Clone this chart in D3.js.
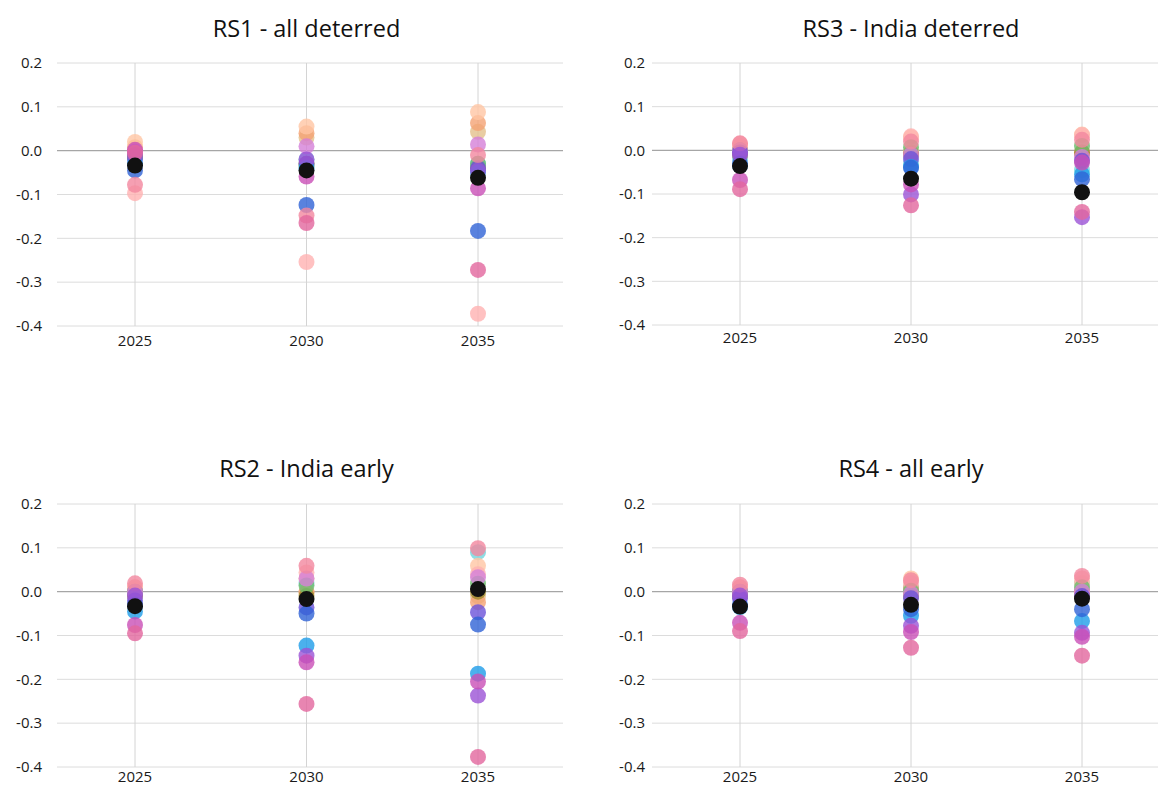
<!DOCTYPE html>
<html>
<head>
<meta charset="utf-8">
<script src="https://cdn.jsdelivr.net/npm/d3@7"></script>
<style>
  html, body { margin: 0; padding: 0; background: #fff; }
  svg { display: block; }
</style>
</head>
<body>
<svg id="chart" width="1158" height="785"></svg>
<script>
// Years on the x axis and value ticks on the y axis
const years = [2025, 2030, 2035];
const yTicks = [0.2, 0.1, 0.0, -0.1, -0.2, -0.3, -0.4];

// One colour per series
const seriesColors = [
  "#ffc6a4", // light peach
  "#f4a274", // peach
  "#ffb1b1", // light pink
  "#f2879f", // pink
  "#e2669e", // pink magenta
  "#c94fb6", // magenta
  "#d580d8", // orchid
  "#9b52d6", // purple
  "#6c52d9", // indigo
  "#2f63d6", // royal blue
  "#1e9ce9", // sky blue
  "#72d4dc", // cyan
  "#6dbb6d", // green
  "#9a8a2c", // olive
  "#e4c18c", // tan
  "#111111"  // black
];

// Stacking order of the series (last drawn sits on top)
const drawOrder = [14, 11, 1, 0, 2, 13, 12, 6, 8, 10, 9, 3, 7, 5, 4, 15];

// Values per series for 2025, 2030, 2035
const rs1Values = [
  [0.020, 0.055, 0.088],
  [0.008, 0.040, 0.063],
  [-0.097, -0.254, -0.372],
  [-0.078, -0.148, -0.010],
  [-0.005, -0.165, -0.272],
  [0.002, -0.059, -0.086],
  [-0.002, 0.010, 0.014],
  [-0.010, -0.020, -0.046],
  [-0.020, -0.030, -0.040],
  [-0.045, -0.124, -0.183],
  [-0.030, -0.040, -0.050],
  [-0.010, -0.020, -0.030],
  [-0.015, -0.035, -0.030],
  [-0.013, -0.030, -0.040],
  [-0.005, 0.030, 0.043],
  [-0.034, -0.045, -0.062]
];

const rs3Values = [
  [0.010, 0.030, 0.036],
  [0.005, -0.005, -0.005],
  [0.015, 0.032, 0.035],
  [0.016, 0.020, 0.024],
  [-0.089, -0.126, -0.141],
  [-0.068, -0.078, -0.028],
  [0.000, -0.010, -0.015],
  [-0.010, -0.101, -0.153],
  [-0.005, -0.020, -0.024],
  [-0.030, -0.040, -0.066],
  [-0.035, -0.038, -0.055],
  [-0.020, -0.030, -0.045],
  [0.000, 0.007, 0.010],
  [-0.010, -0.010, -0.005],
  [0.000, -0.005, -0.010],
  [-0.036, -0.065, -0.096]
];

const rs2Values = [
  [0.010, 0.030, 0.059],
  [0.005, -0.002, -0.024],
  [0.010, 0.044, 0.040],
  [0.019, 0.059, 0.099],
  [-0.095, -0.256, -0.377],
  [-0.076, -0.161, -0.205],
  [0.000, 0.030, 0.033],
  [-0.009, -0.146, -0.237],
  [-0.020, -0.036, -0.047],
  [-0.030, -0.050, -0.075],
  [-0.045, -0.123, -0.187],
  [0.000, 0.020, 0.090],
  [0.000, 0.014, 0.018],
  [-0.010, -0.010, 0.000],
  [0.000, -0.002, -0.010],
  [-0.033, -0.017, 0.006]
];

const rs4Values = [
  [0.010, 0.030, 0.020],
  [0.005, 0.010, 0.000],
  [0.010, 0.020, 0.030],
  [0.016, 0.026, 0.036],
  [-0.090, -0.128, -0.146],
  [-0.071, -0.092, -0.103],
  [0.000, -0.005, 0.000],
  [-0.009, -0.078, -0.094],
  [-0.015, -0.015, -0.010],
  [-0.030, -0.040, -0.040],
  [-0.035, -0.055, -0.067],
  [0.000, 0.010, 0.018],
  [0.000, 0.002, 0.010],
  [-0.010, -0.010, -0.010],
  [0.000, 0.000, 0.000],
  [-0.034, -0.030, -0.016]
];

const panelTitles = ["RS1 - all deterred", "RS3 - India deterred", "RS2 - India early", "RS4 - all early"];
const panelValues = [rs1Values, rs3Values, rs2Values, rs4Values];

// Panel frames (pixel layout); x0/x1 are where 2025 and 2035 sit
const frames = [
  { left: 57,  right: 563,  x0: 135, x1: 478,  top: 63,  bottom: 326, titleY: 37,  labelY: 346, tickX: 42 },
  { left: 652, right: 1158, x0: 740, x1: 1082, top: 63,  bottom: 325, titleY: 37,  labelY: 343, tickX: 645 },
  { left: 57,  right: 563,  x0: 135, x1: 478,  top: 504, bottom: 767, titleY: 477, labelY: 782, tickX: 42 },
  { left: 652, right: 1158, x0: 740, x1: 1082, top: 504, bottom: 767, titleY: 477, labelY: 782, tickX: 645 }
];

const svg = d3.select("#chart");
const font = "'Open Sans', Lato, sans-serif";

frames.forEach((f, i) => {
  const g = svg.append("g");
  const x = d3.scaleLinear().domain([2025, 2035]).range([f.x0, f.x1]);
  const y = d3.scaleLinear().domain([0.2, -0.4]).range([f.top, f.bottom]);

  // horizontal grid
  g.selectAll("line.h").data(yTicks).join("line")
    .attr("x1", f.left).attr("x2", f.right)
    .attr("y1", d => y(d)).attr("y2", d => y(d))
    .attr("stroke", d => d === 0 ? "#a6a6a6" : "#dcdcdc")
    .attr("stroke-width", d => d === 0 ? 1.3 : 1);

  // vertical grid
  g.selectAll("line.v").data(years).join("line")
    .attr("x1", d => x(d)).attr("x2", d => x(d))
    .attr("y1", y(0.2)).attr("y2", y(-0.4))
    .attr("stroke", "#d4d4d4").attr("stroke-width", 1);

  // y tick labels
  g.selectAll("text.yt").data(yTicks).join("text")
    .attr("x", f.tickX).attr("y", d => y(d))
    .attr("dy", "0.35em").attr("text-anchor", "end")
    .attr("font-family", font).attr("font-size", 15).attr("fill", "#1a1a1a")
    .text(d => d3.format(".1f")(d).replace("−", "-"));

  // x tick labels
  g.selectAll("text.xt").data(years).join("text")
    .attr("x", d => x(d)).attr("y", f.labelY)
    .attr("text-anchor", "middle")
    .attr("font-family", font).attr("font-size", 15).attr("fill", "#1a1a1a")
    .text(d => d);

  // title
  g.append("text")
    .attr("x", x(2030)).attr("y", f.titleY)
    .attr("text-anchor", "middle")
    .attr("font-family", font).attr("font-size", 23.5).attr("fill", "#111")
    .text(panelTitles[i]);

  // dots
  const pts = [];
  drawOrder.forEach(s => {
    panelValues[i][s].forEach((v, k) => pts.push({ year: years[k], value: v, color: seriesColors[s] }));
  });
  g.selectAll("circle").data(pts).join("circle")
    .attr("cx", d => x(d.year)).attr("cy", d => y(d.value))
    .attr("r", 8)
    .attr("fill", d => d.color)
    .attr("fill-opacity", d => d.color === "#111111" ? 1 : 0.8);
});
</script>
</body>
</html>
